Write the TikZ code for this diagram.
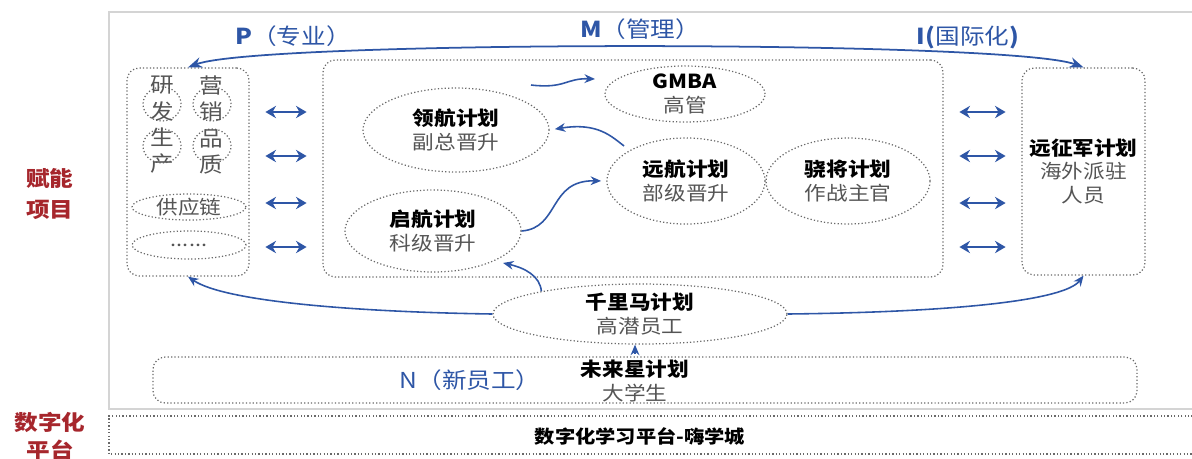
\documentclass[tikz,border=0pt]{standalone}
\usepackage{fontspec}
\setmainfont{Noto Sans CJK SC}[FakeStretch=1.12]
\usetikzlibrary{shapes.geometric}
\usetikzlibrary{arrows.meta}
\definecolor{planblue}{RGB}{46,86,166}
\definecolor{labelred}{RGB}{166,38,44}
\definecolor{dotgray}{RGB}{105,105,105}
\definecolor{subgray}{RGB}{85,85,85}
\definecolor{framegray}{RGB}{212,212,212}
\tikzset{
  dotline/.style={draw=dotgray, line width=0.7pt, dash pattern=on 0.7pt off 1.25pt},
  dotbox/.style={dotline, rectangle, rounded corners=7pt, inner sep=0pt, align=center},
  dotell/.style={dotline, ellipse, inner sep=0pt, align=center},
  ellsize/.style 2 args={minimum width=#1*0.02cm, minimum height=#2*0.02cm},
  flow/.style={planblue, line width=0.9pt, -{Stealth[length=6pt,width=5pt]}},
  dblarrow/.style={planblue, line width=1.3pt,
    {Stealth[length=6pt,width=7pt]}-{Stealth[length=6pt,width=7pt]},
    shorten <=9pt, shorten >=9pt},
  plantext/.style={font=\fontsize{11}{13.3}\selectfont},
  bluelabel/.style={text=planblue, font=\fontsize{12.5}{14}\selectfont},
  redlabel/.style={text=labelred, align=center, font=\fontsize{12}{18}\selectfont\bfseries},
}
\newcommand{\plan}[2]{{\bfseries #1}\\{\color{subgray}#2}}

\begin{document}
\begin{tikzpicture}[x=0.02cm, y=-0.02cm]
\useasboundingbox (0,0) rectangle (1192,458);

%%%%%%%%%%%%%%%%%%%%%%%%%%%%%%%%%%%%%%%%%%%%%%%%%%%%%%%%%%%%%% frames
\draw[framegray, line width=1.2pt] (1220,12) -- (109,12) -- (109,409) -- (1220,409);
\draw[dotline] (1220,416) -- (109,416) -- (109,454) -- (1220,454);

\node[redlabel] (fn) at (50,194) {赋能\\项目};
\node[redlabel, font=\fontsize{12}{16}\selectfont\bfseries] (szh) at (50,436) {数字化\\平台};
\node[font=\fontsize{10.3}{12}\selectfont\bfseries] (plat) at (640,436) {数字化学习平台-嗨学城};

%%%%%%%%%%%%%%%%%%%%%%%%%%%%%%%%%%%%%%%%%%%%%%%%%%%%%%%%%%%%%% boxes
\node[dotbox, minimum width=122*0.02cm, minimum height=208*0.02cm] (lbox) at (188,172) {};
\node[dotbox, minimum width=620*0.02cm, minimum height=217*0.02cm] (cbox) at (633,168.5) {};
\node[dotbox, plantext, minimum width=123*0.02cm, minimum height=207*0.02cm] (rbox) at (1083.5,171.5)
  {{\bfseries 远征军计划}\\{\color{subgray}海外派驻}\\{\color{subgray}人员}};
\node[dotbox, minimum width=984*0.02cm, minimum height=46*0.02cm] (nbox) at (645,380) {};

%%%%%%%%%%%%%%%%%%%%%%%%%%%%%%%%%%%%%%%%%%%%%%%%%%%%%%%%%%%%%% left box
\foreach \x/\y [count=\i] in {162/104,162/146,212/104,212/146}
  \node[dotell, ellsize={38}{34}] (c\i) at (\x,\y) {};
\node[text=subgray, align=center, font=\fontsize{12}{15}\selectfont] (yf) at (162,125) {研\\发\\生\\产};
\node[text=subgray, align=center, font=\fontsize{12}{15}\selectfont] (yx) at (211,125) {营\\销\\品\\质};
\node[dotell, plantext, ellsize={114}{26}, text=subgray] (gyl) at (189,207) {供应链};
\node[dotell, plantext, ellsize={114}{28}, text=subgray] (etc) at (189,245) {\raisebox{-0.3ex}{......}};

%%%%%%%%%%%%%%%%%%%%%%%%%%%%%%%%%%%%%%%%%%%%%%%%%%%%%%%%%%%%%% plans
\node[dotell, plantext, ellsize={160}{56}] (gm) at (685,94) {\plan{GMBA}{高管}};
\node[dotell, plantext, ellsize={186}{84}] (lh) at (456,130) {\plan{领航计划}{副总晋升}};
\node[dotell, plantext, ellsize={158}{86}] (yh) at (686,181) {\plan{远航计划}{部级晋升}};
\node[dotell, plantext, ellsize={164}{86}] (xj) at (848,181) {\plan{骁将计划}{作战主官}};
\node[dotell, plantext, ellsize={176}{82}] (qh) at (433,231) {\plan{启航计划}{科级晋升}};
\node[dotell, plantext, ellsize={294}{60}] (qlm) at (640,314) {\plan{千里马计划}{高潜员工}};
\node[plantext, align=center] (wlx) at (635,381) {\plan{未来星计划}{大学生}};

%%%%%%%%%%%%%%%%%%%%%%%%%%%%%%%%%%%%%%%%%%%%%%%%%%%%%%%%%%%%%% labels
\node[bluelabel] (P) at (293,36) {\textbf{P}（专业）};
\node[bluelabel] (M) at (640,29) {\textbf{M}（管理）};
\node[bluelabel] (I) at (968,38) {\textbf{I(}国际化\textbf{)}};
\node[bluelabel] (N) at (470,380) {N（新员工）};

%%%%%%%%%%%%%%%%%%%%%%%%%%%%%%%%%%%%%%%%%%%%%%%%%%%%%%%%%%%%%% arrows
\draw[flow, line width=1pt, {Stealth[length=8pt,width=6pt]}-{Stealth[length=8pt,width=6pt]}]
  (lbox.north) .. controls (260,40) and (1010,40) .. (rbox.north);
\draw[flow] (qlm.west) .. controls (360,312) and (225,302) .. (lbox.south);
\draw[flow] (qlm.east) .. controls (960,312) and (1065,300) .. (rbox.south);

\coordinate (gmin) at (531,85);
\coordinate (gmtip) at (595,79);
\draw[flow] (gmin) .. controls (565,89) and (566,78) .. (gmtip);
\draw[flow, shorten <=4pt, shorten >=3pt] (yh.north west) .. controls (612,137) and (598,122) .. (lh.east);
\draw[flow, shorten >=3pt] (qh.east) .. controls (560,228) and (548,180) .. (yh.west);
\draw[flow, shorten >=5pt] (qlm.167) .. controls (540,276) and (525,268) .. (qh.-26);
\draw[flow] (wlx.north) -- (wlx.north |- qlm.south);

\foreach \y in {112,156,203,247}{
  \draw[dblarrow] (lbox.east |- 0,\y) -- (cbox.west |- 0,\y);
  \draw[dblarrow] (cbox.east |- 0,\y) -- (rbox.west |- 0,\y);
}
\end{tikzpicture}
\end{document}
